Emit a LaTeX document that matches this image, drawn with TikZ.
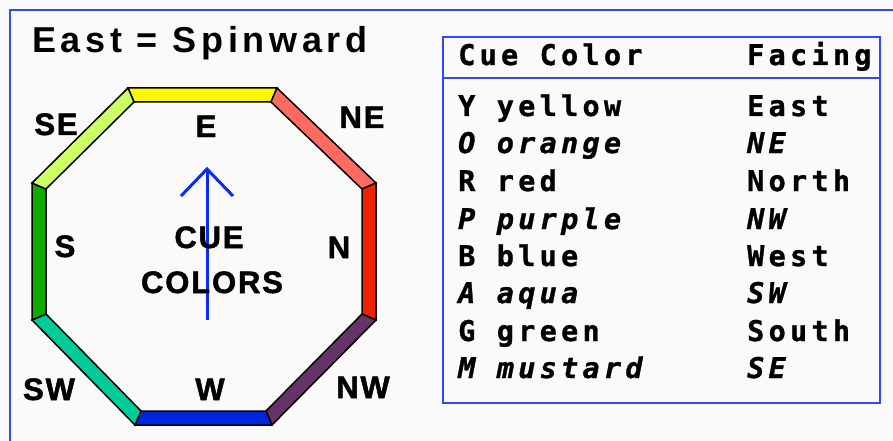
\documentclass[tikz,border=0pt]{standalone}
\usepackage{fontspec}
\setmainfont{Liberation Sans}
\newfontfamily\titlefont[LetterSpace=13]{Liberation Sans}
\newfontfamily\labfont[LetterSpace=6,FakeBold=1.6]{Liberation Sans Bold}
\newfontfamily\tabfont[LetterSpace=15,BoldFeatures={FakeBold=1},BoldItalicFeatures={FakeBold=1}]{DejaVu Sans Mono}
\definecolor{frameblue}{HTML}{2A4BFF}
\definecolor{cY}{HTML}{FFF800}
\definecolor{cO}{HTML}{FF6B61}
\definecolor{cR}{HTML}{EE2200}
\definecolor{cP}{HTML}{663366}
\definecolor{cB}{HTML}{0026DD}
\definecolor{cA}{HTML}{00CC99}
\definecolor{cG}{HTML}{11AA00}
\definecolor{cM}{HTML}{CCFF66}
\definecolor{arrowblue}{HTML}{0A2BFF}
\tikzset{
  seg/.style={draw=black, line width=1.5pt, line join=miter},
  lab/.style={anchor=base, inner sep=0pt, font=\labfont\fontsize{31}{31}\selectfont},
  tabtxt/.style={anchor=base west, inner sep=0pt, font=\tabfont\bfseries\fontsize{28.5}{28.5}\selectfont},
  tabit/.style={tabtxt, font=\tabfont\bfseries\itshape\fontsize{28.5}{28.5}\selectfont},
}
\begin{document}
\begin{tikzpicture}[x=1pt,y=-1pt]
\useasboundingbox (0,0) rectangle (893,441);
\fill[white!98!black] (0,0) rectangle (893,441);
% outer frame
\draw[frameblue, line width=2.5pt] (10,441) -- (10,10) -- (893,10);
% title
\node[anchor=base west, inner sep=0pt, font=\titlefont\bfseries\fontsize{36}{36}\selectfont] (title) at (32,53) {East = Spinward};
% octagon outer/inner vertices
\coordinate (O1) at (128,88);  \coordinate (I1) at (134,102);
\coordinate (O2) at (277,88);  \coordinate (I2) at (271,102);
\coordinate (O3) at (376,183); \coordinate (I3) at (362,189);
\coordinate (O4) at (376,320); \coordinate (I4) at (362,314);
\coordinate (O5) at (272,425); \coordinate (I5) at (266,411);
\coordinate (O6) at (135,425); \coordinate (I6) at (141,411);
\coordinate (O7) at (32,320);  \coordinate (I7) at (46,314);
\coordinate (O8) at (32,183);  \coordinate (I8) at (46,189);
\filldraw[seg, fill=cY] (O1) -- (O2) -- (I2) -- (I1) -- cycle;
\filldraw[seg, fill=cO] (O2) -- (O3) -- (I3) -- (I2) -- cycle;
\filldraw[seg, fill=cR] (O3) -- (O4) -- (I4) -- (I3) -- cycle;
\filldraw[seg, fill=cP] (O4) -- (O5) -- (I5) -- (I4) -- cycle;
\filldraw[seg, fill=cB] (O5) -- (O6) -- (I6) -- (I5) -- cycle;
\filldraw[seg, fill=cA] (O6) -- (O7) -- (I7) -- (I6) -- cycle;
\filldraw[seg, fill=cG] (O7) -- (O8) -- (I8) -- (I7) -- cycle;
\filldraw[seg, fill=cM] (O8) -- (O1) -- (I1) -- (I8) -- cycle;
% arrow
\coordinate (abase) at (207,320);
\coordinate (atip) at (207,169);
\coordinate (awl) at (181,196);
\coordinate (awr) at (233,196);
\draw[arrowblue, line width=3pt] (abase) -- (atip);
\draw[arrowblue, line width=3pt, line join=miter] (awl) -- (atip) -- (awr);
% labels
\node[lab] (lE) at (206,137) {E};
\node[lab] (lNE) at (362,128) {NE};
\node[lab] (lSE) at (56,135) {SE};
\node[lab] (lS) at (65,257) {S};
\node[lab] (lN) at (339,258) {N};
\node[lab] (lSW) at (49,400) {SW};
\node[lab] (lW) at (210,400) {W};
\node[lab] (lNW) at (363,398) {NW};
\node[lab] (lcue) at (209,248) {CUE};
\node[lab] (lcol) at (212,293) {COLORS};
% table
\draw[frameblue, line width=2pt] (443,37) rectangle (880,403);
\draw[frameblue, line width=2pt] (443,78) -- (880,78);
\node[tabtxt] (h1) at (458,65) {Cue Color};
\node[tabtxt] (h2) at (747,65) {Facing};
\node[tabtxt] (r1a) at (458,116) {Y yellow};  \node[tabtxt] (r1b) at (747,116) {East};
\node[tabit]  (r2a) at (458,153) {O orange};  \node[tabit]  (r2b) at (747,153) {NE};
\node[tabtxt] (r3a) at (458,191) {R red};     \node[tabtxt] (r3b) at (747,191) {North};
\node[tabit]  (r4a) at (458,229) {P purple};  \node[tabit]  (r4b) at (747,229) {NW};
\node[tabtxt] (r5a) at (458,266) {B blue};    \node[tabtxt] (r5b) at (747,266) {West};
\node[tabit]  (r6a) at (458,303) {A aqua};    \node[tabit]  (r6b) at (747,303) {SW};
\node[tabtxt] (r7a) at (458,341) {G green};   \node[tabtxt] (r7b) at (747,341) {South};
\node[tabit]  (r8a) at (458,378) {M mustard}; \node[tabit]  (r8b) at (747,378) {SE};
\end{tikzpicture}
\end{document}
